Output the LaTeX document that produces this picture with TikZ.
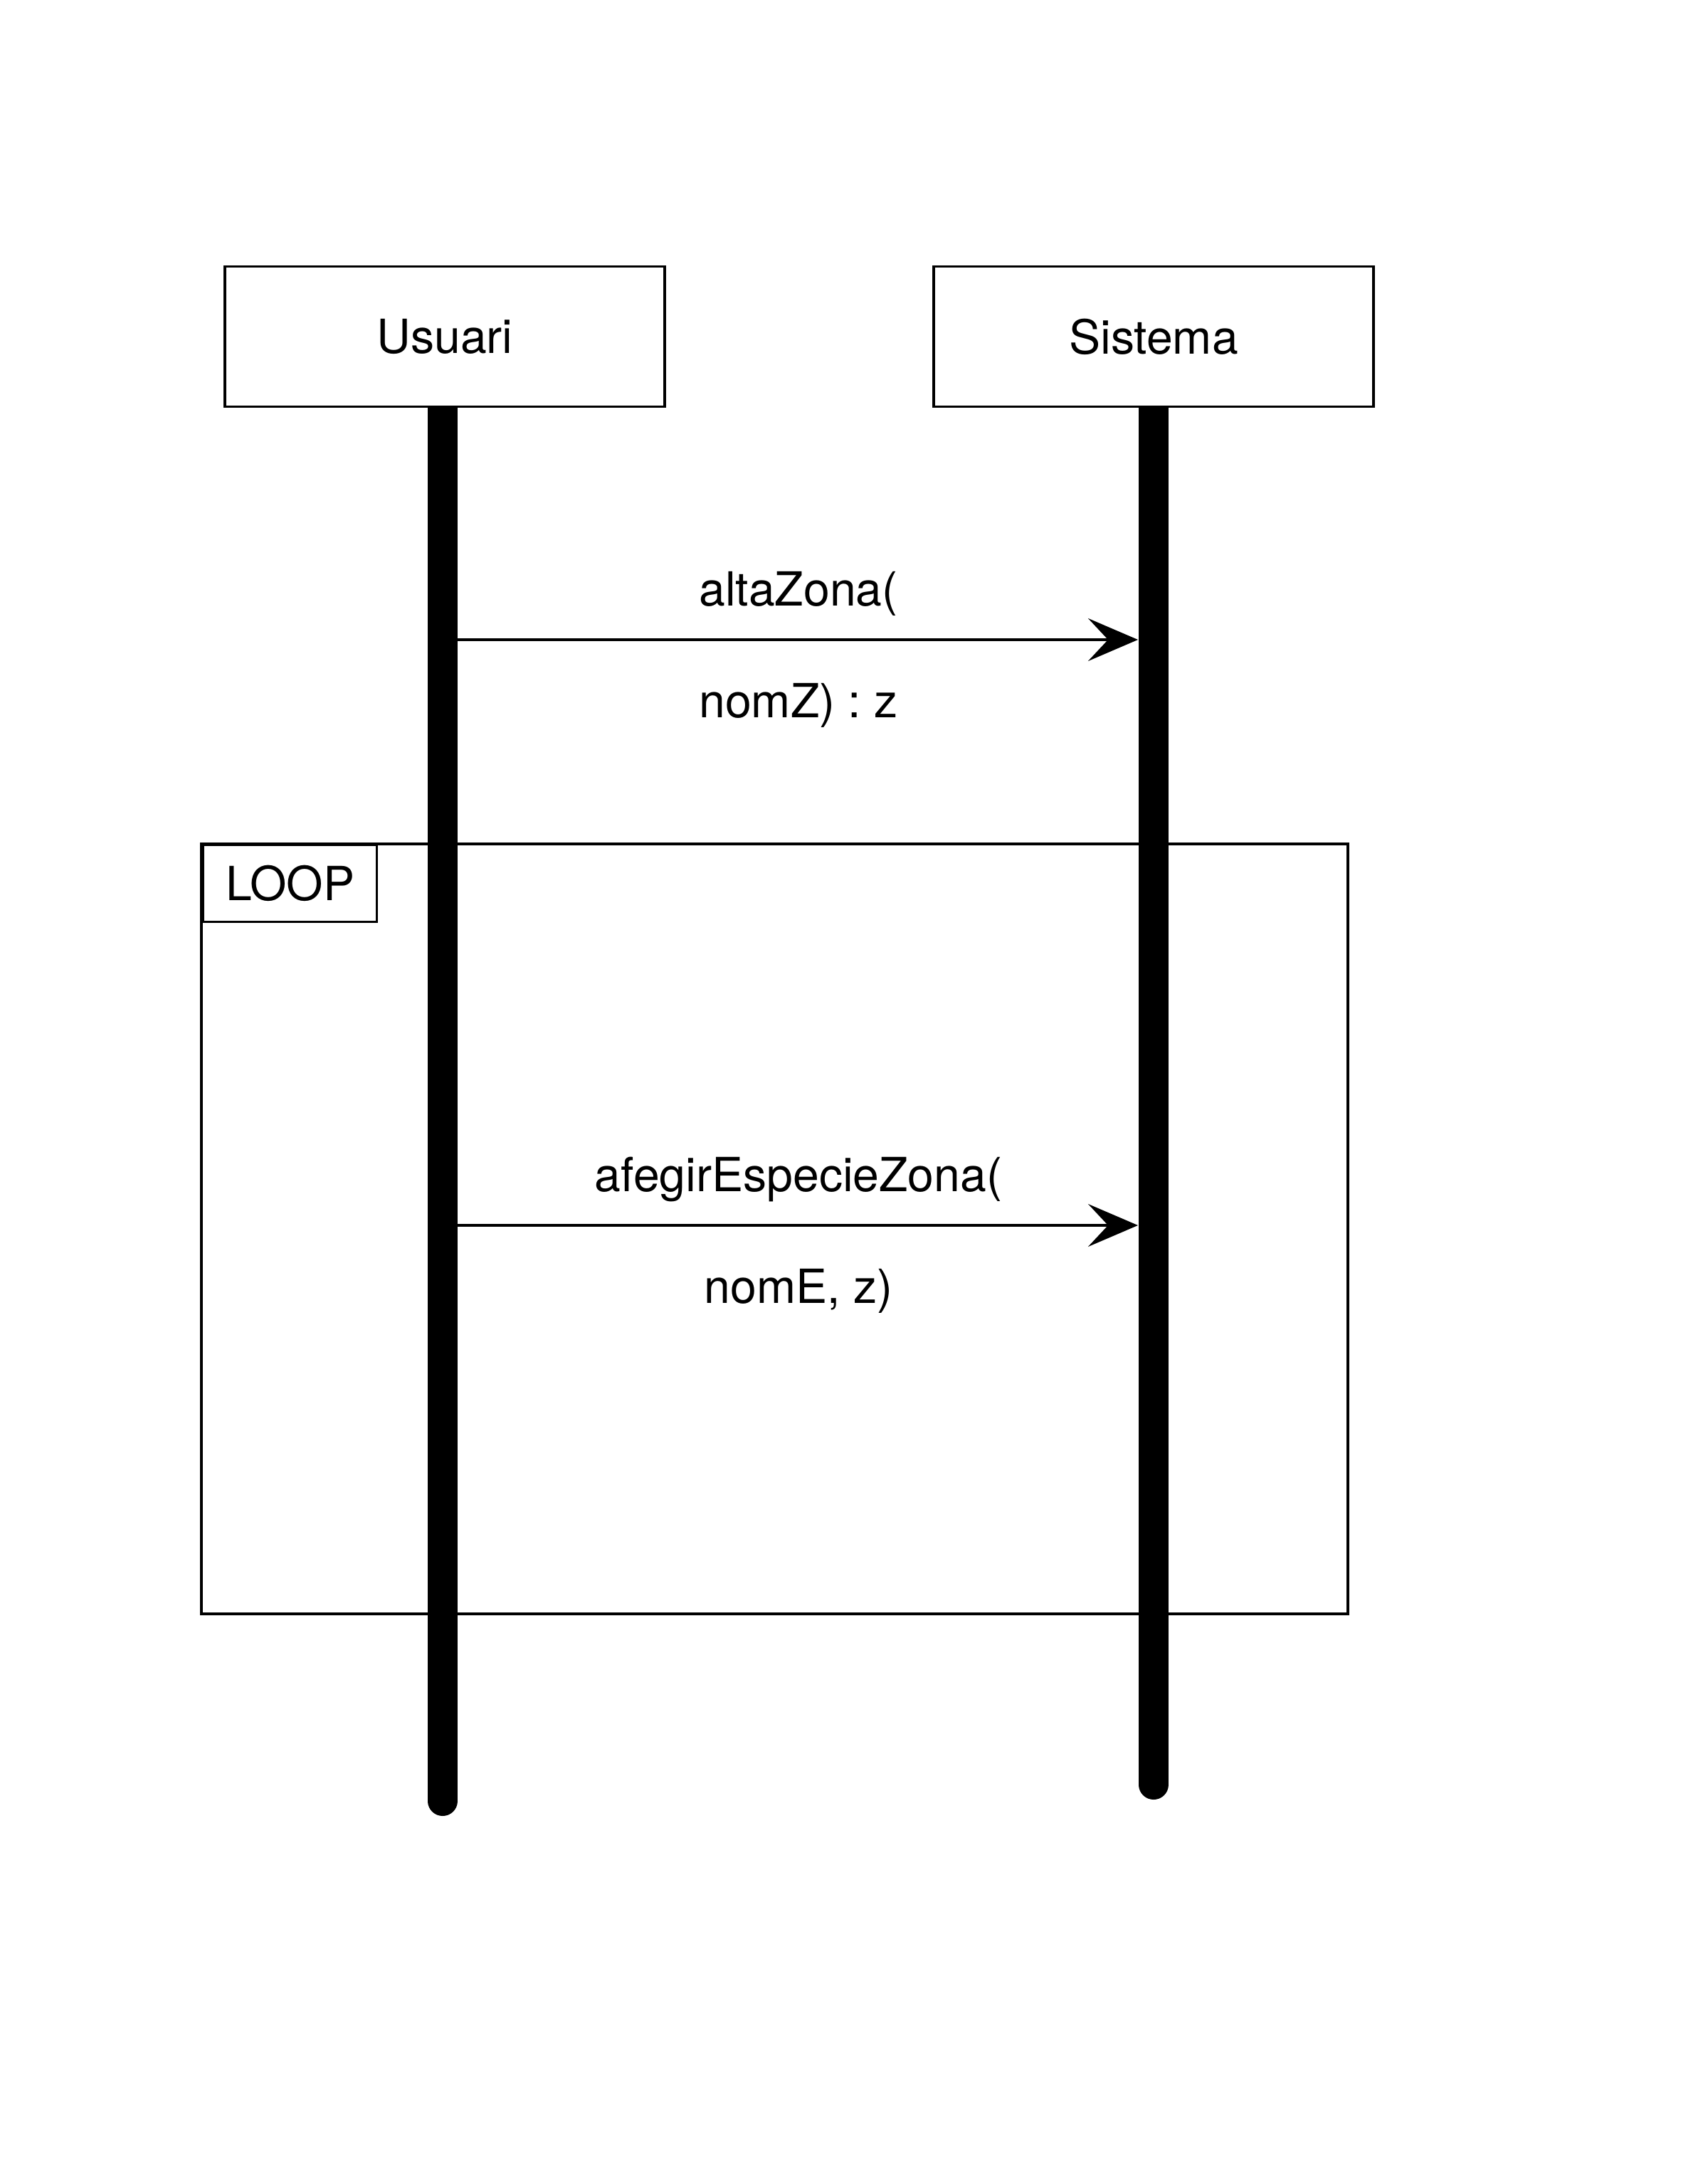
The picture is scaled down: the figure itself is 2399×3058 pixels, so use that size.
\documentclass[tikz,border=0pt]{standalone}
\usepackage{fontspec}
\setmainfont{TeX Gyre Heros}
\usepackage{tikz}
\usetikzlibrary{arrows.meta,backgrounds}

\tikzset{
  actor/.style={draw, line width=1.1pt, fill=white, minimum width=6.18cm, minimum height=1.97cm, inner sep=0pt},
  lifeline/.style={line width=0.42cm, line cap=round},
  msg/.style={line width=0.9pt, -{Stealth[length=0.7cm, width=0.6cm, inset=0.28cm]}},
  frame/.style={line width=1.1pt},
  looptab/.style={draw, line width=0.9pt, fill=white, minimum width=2.44cm, minimum height=1.08cm, inner sep=0pt, anchor=north west},
  msglabel/.style={anchor=base, inner sep=0pt}
}

\begin{document}
\begin{tikzpicture}[x=0.01cm, y=-0.01cm, font=\fontsize{18.8pt}{22pt}\selectfont]
      \useasboundingbox (0,0) rectangle (2399,3058);

	\node[actor] (usuari) at (625,473) {Usuari};
	\node[actor] (sistema) at (1621,473) {Sistema};

      \coordinate (usuariEnd) at (622,2531);
      \coordinate (sistemaEnd) at (1621,2508);
      \begin{scope}[on background layer]
        \draw[lifeline] (622,473) -- (usuariEnd);
        \draw[lifeline] (sistema.center) -- (sistemaEnd);
      \end{scope}

      % loop frame
      \draw[frame] (283,1186) rectangle (1894,2268);
	\node[looptab] (looptag) at (284,1186) {LOOP};

      % missatges
      \coordinate (u1) at (643,899);
      \coordinate (s1) at (1599,899);
      \draw[msg] (u1) -- (s1);
	\node[msglabel] (alta) at (1122,851) {altaZona(};
	\node[msglabel] (altaRet) at (1122,1008) {nomZ) : z};

      \coordinate (u2) at (643,1722);
      \coordinate (s2) at (1599,1722);
      \draw[msg] (u2) -- (s2);
	\node[msglabel] (afegir) at (1122,1674) {afegirEspecieZona(};
	\node[msglabel] (afegirArg) at (1122,1831) {nomE, z)};
\end{tikzpicture}
\end{document}
